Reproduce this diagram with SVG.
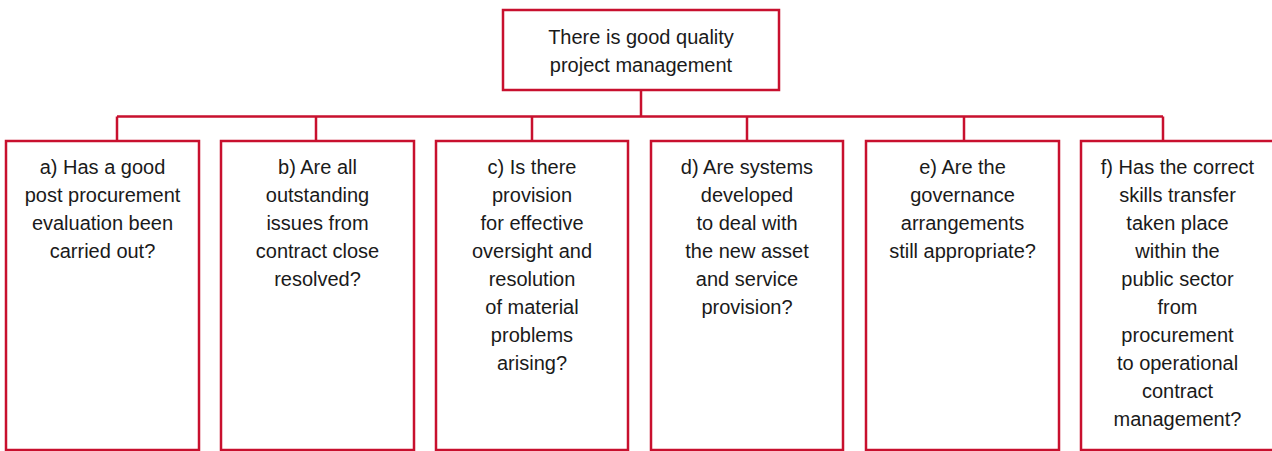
<svg xmlns="http://www.w3.org/2000/svg" width="1272" height="451" viewBox="0 0 1272 451">
<style>
.box{fill:#fff;stroke:#c8102e;stroke-width:2.5}
.conn{fill:none;stroke:#c8102e;stroke-width:2.5}
text{font-family:"Liberation Sans",Arial,sans-serif;font-size:20px;fill:#1a1a1a;text-anchor:middle}
</style>
<rect width="1272" height="451" fill="#fff"/>
<g id="connectors">
<path class="conn" d="M641,90 V116.5 M117,116.5 H1163 M117,116.5 V141 M316,116.5 V141 M532,116.5 V141 M747,116.5 V141 M964,116.5 V141 M1163,116.5 V141"/>
</g>
<g id="root">
<rect class="box" x="503" y="10" width="276" height="80"/>
<text x="641" y="44">There is good quality</text>
<text x="641" y="72">project management</text>
</g>
<g id="a">
<rect class="box" x="6" y="141" width="193" height="309"/>
<text x="102.5" y="174">a) Has a good</text>
<text x="102.5" y="202">post procurement</text>
<text x="102.5" y="230">evaluation been</text>
<text x="102.5" y="258">carried out?</text>
</g>
<g id="b">
<rect class="box" x="221" y="141" width="193" height="309"/>
<text x="317.5" y="174">b) Are all</text>
<text x="317.5" y="202">outstanding</text>
<text x="317.5" y="230">issues from</text>
<text x="317.5" y="258">contract close</text>
<text x="317.5" y="286">resolved?</text>
</g>
<g id="c">
<rect class="box" x="436" y="141" width="192" height="309"/>
<text x="532" y="174">c) Is there</text>
<text x="532" y="202">provision</text>
<text x="532" y="230">for effective</text>
<text x="532" y="258">oversight and</text>
<text x="532" y="286">resolution</text>
<text x="532" y="314">of material</text>
<text x="532" y="342">problems</text>
<text x="532" y="370">arising?</text>
</g>
<g id="d">
<rect class="box" x="651" y="141" width="192" height="309"/>
<text x="747" y="174">d) Are systems</text>
<text x="747" y="202">developed</text>
<text x="747" y="230">to deal with</text>
<text x="747" y="258">the new asset</text>
<text x="747" y="286">and service</text>
<text x="747" y="314">provision?</text>
</g>
<g id="e">
<rect class="box" x="866" y="141" width="193" height="309"/>
<text x="962.5" y="174">e) Are the</text>
<text x="962.5" y="202">governance</text>
<text x="962.5" y="230">arrangements</text>
<text x="962.5" y="258">still appropriate?</text>
</g>
<g id="f">
<rect class="box" x="1081" y="141" width="193" height="309"/>
<text x="1177.5" y="174">f) Has the correct</text>
<text x="1177.5" y="202">skills transfer</text>
<text x="1177.5" y="230">taken place</text>
<text x="1177.5" y="258">within the</text>
<text x="1177.5" y="286">public sector</text>
<text x="1177.5" y="314">from</text>
<text x="1177.5" y="342">procurement</text>
<text x="1177.5" y="370">to operational</text>
<text x="1177.5" y="398">contract</text>
<text x="1177.5" y="426">management?</text>
</g>
</svg>
